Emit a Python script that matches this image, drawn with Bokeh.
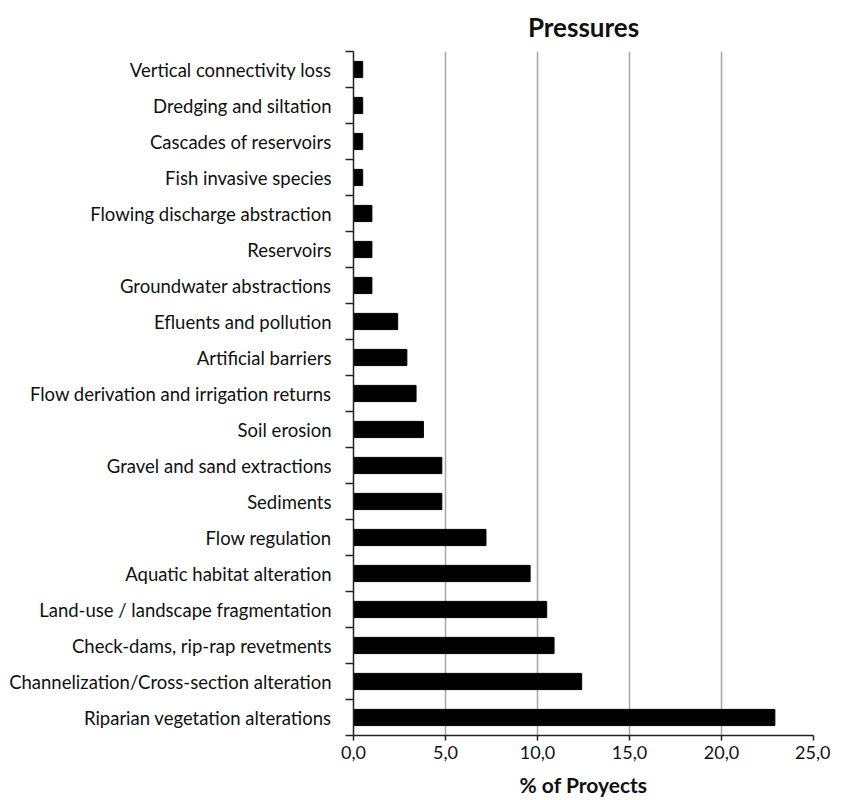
from bokeh.plotting import figure
from bokeh.models import FixedTicker, ColumnDataSource
from bokeh.embed import file_html
from bokeh.resources import INLINE

# top to bottom as in the chart
categories = [
    "Vertical connectivity loss",
    "Dredging and siltation",
    "Cascades of reservoirs",
    "Fish invasive species",
    "Flowing discharge abstraction",
    "Reservoirs",
    "Groundwater abstractions",
    "Efluents and pollution",
    "Artificial barriers",
    "Flow derivation and irrigation returns",
    "Soil erosion",
    "Gravel and sand extractions",
    "Sediments",
    "Flow regulation",
    "Aquatic habitat alteration",
    "Land-use / landscape fragmentation",
    "Check-dams, rip-rap revetments",
    "Channelization/Cross-section alteration",
    "Riparian vegetation alterations",
]
values = [0.5, 0.5, 0.5, 0.5, 1.0, 1.0, 1.0, 2.4, 2.9, 3.4, 3.8, 4.8, 4.8, 7.2, 9.6, 10.5, 10.9, 12.4, 22.9]
x_ticks = [0, 5, 10, 15, 20, 25]
x_tick_labels = ["0,0", "5,0", "10,0", "15,0", "20,0", "25,0"]
title_text = "Pressures"
x_label = "% of Proyects"

n = len(categories)
ypos = [n - 1 - i + 0.5 for i in range(n)]
src = ColumnDataSource(dict(y=ypos, v=values, cat=categories))

FONT = "Lato"
TXT = "#111111"

p = figure(output_backend="svg", toolbar_location=None,
           frame_width=460, frame_height=684,
           x_range=(0, 25), y_range=(0, n),
           min_border_left=353, min_border_right=17,
           min_border_top=50, min_border_bottom=50,
           title=title_text)
p.outline_line_color = None
p.background_fill_color = "white"

p.title.text_font = FONT
p.title.text_font_size = "26px"
p.title.text_font_style = "bold"
p.title.text_color = TXT
p.title.align = "center"
p.title.standoff = 17

p.hbar(y="y", right="v", left=0, height=0.45, source=src,
       fill_color="black", line_color="black")

# x axis
p.xaxis.ticker = FixedTicker(ticks=x_ticks)
p.xaxis.major_label_overrides = {t: l for t, l in zip(x_ticks, x_tick_labels)}
p.xaxis.axis_label = x_label
p.xaxis.axis_label_text_font = FONT
p.xaxis.axis_label_text_font_size = "21px"
p.xaxis.axis_label_text_font_style = "bold"
p.xaxis.axis_label_text_color = TXT
p.xaxis.axis_label_standoff = 10
p.xaxis.major_label_text_font = FONT
p.xaxis.major_label_text_font_size = "18px"
p.xaxis.major_label_text_color = TXT
p.xaxis.major_label_standoff = 5
p.xaxis.axis_line_color = "#222222"
p.xaxis.axis_line_width = 1.5
p.xaxis.major_tick_line_color = "#222222"
p.xaxis.major_tick_line_width = 1.5
p.xaxis.major_tick_out = 5
p.xaxis.major_tick_in = 0
p.xaxis.minor_tick_line_color = None

# y axis: labels at centers, ticks at boundaries
p.yaxis.ticker = FixedTicker(ticks=ypos, minor_ticks=list(range(n + 1)))
p.yaxis.major_label_overrides = {y: c for y, c in zip(ypos, categories)}
p.yaxis.major_label_text_font = FONT
p.yaxis.major_label_text_font_size = "18.5px"
p.yaxis.major_label_text_color = TXT
p.yaxis.major_label_standoff = 14
p.yaxis.major_tick_out = 0
p.yaxis.major_tick_in = 0
p.yaxis.major_tick_line_color = None
p.yaxis.minor_tick_line_color = "#222222"
p.yaxis.minor_tick_line_width = 1.5
p.yaxis.minor_tick_out = 8
p.yaxis.minor_tick_in = 0
p.yaxis.axis_line_color = "#222222"
p.yaxis.axis_line_width = 1.5

p.ygrid.grid_line_color = None
p.xgrid.grid_line_color = "#a6a6a6"
p.xgrid.grid_line_width = 1.5

open("out.html", "w").write(file_html(p, INLINE))
